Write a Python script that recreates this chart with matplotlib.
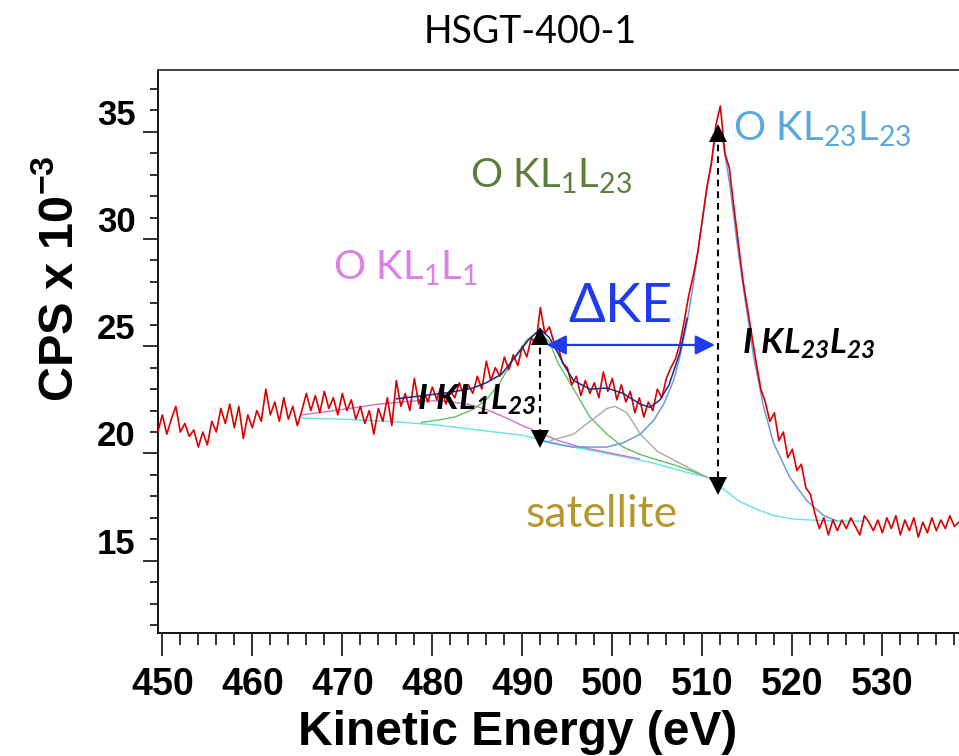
import numpy as np
import matplotlib
matplotlib.use('Agg')
import matplotlib.pyplot as plt
from matplotlib.ticker import MultipleLocator

plt.rcParams['font.family'] = ['Liberation Sans', 'DejaVu Sans']
plt.rcParams['mathtext.fontset'] = 'custom'
plt.rcParams['mathtext.rm'] = 'Lato'
plt.rcParams['mathtext.it'] = 'Lato:italic'
plt.rcParams['mathtext.bf'] = 'Liberation Sans:bold'
HAS_BFIT = 'mathtext.bfit' in plt.rcParams
if HAS_BFIT:
    plt.rcParams['mathtext.bfit'] = 'Lato:italic:bold'

# ---------------- data ----------------
start_energy = 449.5
energy_step = 0.5
cps = [21.0, 21.8, 20.9, 21.6, 22.2, 21.0, 21.4, 20.8, 21.1, 20.3, 21.0,
       20.4, 21.5, 21.0, 22.1, 21.4, 22.3, 21.2, 22.2, 20.7, 21.8,
       21.2, 22.0, 21.5, 23.0, 21.8, 22.4, 21.5, 22.6, 21.6, 22.2,
       21.3, 22.0, 22.8, 22.0, 22.7, 21.9, 22.9, 22.1, 22.6, 21.8,
       22.8, 22.0, 22.5, 21.6, 22.2, 21.4, 22.0, 20.9, 22.1, 21.5,
       22.6, 21.3, 23.4, 22.2, 22.8, 22.0, 23.5, 22.3, 23.0, 22.4,
       23.1, 22.5, 23.2, 22.3, 22.9, 22.6, 23.3, 22.7, 23.2, 22.8,
       23.6, 23.0, 24.3, 23.4, 24.0, 23.6, 24.5, 23.9, 24.6, 24.1,
       25.0, 24.5, 25.4, 25.1, 26.8, 25.6, 25.9, 25.2, 24.9, 24.2,
       24.0, 23.2, 23.6, 22.7, 23.4, 22.8, 23.3, 22.6, 23.8, 22.9,
       23.5, 22.5, 23.2, 22.4, 22.9, 21.9, 22.6, 21.7, 22.4, 22.0,
       23.0, 22.6, 23.5, 24.0, 24.4, 25.1, 26.2, 27.4, 28.3, 29.4,
       30.9, 32.4, 33.5, 35.3, 36.2, 34.0, 33.3, 31.5, 29.8, 28.1,
       26.8, 25.5, 24.2, 23.0, 22.4, 21.5, 21.9, 20.6, 21.0, 19.8,
       20.2, 19.2, 19.5, 18.4, 18.1, 17.2, 16.5, 17.0, 16.2, 16.9,
       16.4, 16.9, 16.5, 17.0, 16.6, 16.2, 17.1, 16.8, 16.4, 16.9,
       16.3, 17.0, 16.5, 17.1, 16.2, 16.9, 16.4, 17.0, 16.1, 16.8,
       16.3, 17.0, 16.4, 16.9, 16.5, 17.1, 16.6, 16.8]

bg_E = [465.5, 470, 475, 480, 485, 490, 492, 495, 500, 503, 505, 508,
        510.5, 512, 514, 516, 518, 520, 522, 525, 528]
bg_v = [21.65, 21.6, 21.5, 21.35, 21.1, 20.85, 20.65, 20.35, 19.95, 19.7,
        19.5, 19.15, 18.9, 18.45, 17.8, 17.4, 17.1, 16.95, 16.9, 16.85, 16.85]

kl1l1_E = [465.5, 470, 474, 478, 481, 484, 486, 488, 490, 492, 494, 496, 500, 503]
kl1l1_v = [21.8, 22.05, 22.3, 22.45, 22.45, 22.3, 22.05, 21.7, 21.3, 20.95,
           20.6, 20.35, 20.0, 19.75]

kl1l23_E = [478.8, 480.5, 482.5, 484.5, 486, 487.5, 489, 490.5, 491.8, 493,
            494, 495.7, 497.5, 499.4, 501.2, 503.1, 505, 507, 509, 510.5]
kl1l23_v = [21.45, 21.55, 21.7, 22.05, 22.5, 23.3, 24.4, 25.3, 25.7, 25.2,
            24.2, 23.0, 21.7, 20.9, 20.3, 19.95, 19.7, 19.45, 19.15, 18.9]

sat_E = [493.1, 495.7, 497.5, 498.5, 499.4, 500.3, 501.6, 502.3, 503.1, 505,
         506.8, 508.6, 510.5]
sat_v = [20.6, 20.9, 21.5, 21.8, 22.1, 22.2, 21.9, 21.45, 20.9, 20.1,
         19.7, 19.3, 18.9]

kl23_E = [492, 494.2, 495.7, 499.4, 501.2, 503.1, 504.6, 505.7, 506.8, 507.5,
          508.3, 509.0, 509.8, 510.5, 511.2, 511.8, 512.3, 513.1, 513.8, 514.6,
          515.7, 516.8, 517.9, 519.7, 521.6, 523.5, 525]
kl23_v = [20.6, 20.4, 20.3, 20.3, 20.5, 20.9, 21.55, 22.3, 23.4, 24.5,
          26.1, 27.9, 30.3, 32.3, 34.1, 35.2, 34.5, 32.4, 30.0, 27.6,
          24.5, 22.2, 20.5, 18.9, 17.8, 17.1, 16.85]

env_E = [476, 479, 482, 484.5, 486, 487.7, 489.2, 490.7, 492, 493, 493.8,
         494.8, 495.7, 497.5, 499.4, 501.2, 503.1, 504.2, 505.3, 506.3, 507.5, 508.3]
env_v = [22.55, 22.7, 22.85, 23.05, 23.3, 23.7, 24.5, 25.3, 25.8, 25.4, 24.8,
         24.0, 23.4, 23.0, 23.05, 22.8, 22.3, 22.15, 22.5, 23.2, 24.7, 26.3]

peak_kl1l23_E = 491.97
peak_kl1l23_top, peak_kl1l23_base = 25.46, 20.67
peak_kl23_E = 511.78
peak_kl23_top, peak_kl23_base = 34.92, 18.48
dke_y = 25.06
dke_left, dke_right = 492.7, 511.4

xticks = [450, 460, 470, 480, 490, 500, 510, 520, 530]
xtick_labels = ['450', '460', '470', '480', '490', '500', '510', '520', '530']
yticks = [15, 20, 25, 30, 35]
ytick_labels = ['15', '20', '25', '30', '35']

energy = start_energy + energy_step * np.arange(len(cps))

# ---------------- figure ----------------
W, H = 959, 756
fig = plt.figure(figsize=(W / 100, H / 100), dpi=100)
ax = fig.add_axes([158 / W, 1 - 633 / H, (962 - 158) / W, (633 - 70) / H])
ax.set_xlim(449.52, 538.85)
ax.set_ylim(11.63, 37.88)

ax.plot(bg_E, bg_v, color='#5fe3ea', lw=1.0, zorder=2)
ax.plot(kl1l1_E, kl1l1_v, color='#d070d0', lw=1.0, zorder=2)
ax.plot(kl1l23_E, kl1l23_v, color='#60c060', lw=1.0, zorder=2)
ax.plot(sat_E, sat_v, color='#a8a8a8', lw=1.0, zorder=2)
ax.plot(kl23_E, kl23_v, color='#6a9be0', lw=1.1, zorder=2)
ax.plot(energy, cps, color='#dc0000', lw=1.2, zorder=3)
ax.plot(env_E, env_v, color='#1c2a8c', lw=1.1, zorder=4)

# dashed intensity markers
for xE, top, base in [(peak_kl1l23_E, peak_kl1l23_top, peak_kl1l23_base),
                      (peak_kl23_E, peak_kl23_top, peak_kl23_base)]:
    ax.plot([xE, xE], [top, base], color='black', lw=1.5,
            ls=(0, (3.2, 2.4)), zorder=5)
    ax.plot([xE], [top], marker='^', ms=12.5, color='black', mew=0, zorder=6)
    ax.plot([xE], [base], marker='v', ms=12.5, color='black', mew=0, zorder=6)

ax.annotate('', xy=(dke_right, dke_y), xytext=(dke_left, dke_y),
            arrowprops=dict(arrowstyle='<|-|>', color='#1f3bf0', lw=1.6,
                            mutation_scale=30, shrinkA=0, shrinkB=0), zorder=6)

# labels
ax.text(513.4, 34.6, r'$\mathrm{O\ KL_{23}L_{23}}$', color='#5ba8e0',
        fontsize=29, ha='left', va='baseline', zorder=7)
ax.text(484.2, 32.4, r'$\mathrm{O\ KL_{1}L_{23}}$', color='#5a7f3a',
        fontsize=29, ha='left', va='baseline', zorder=7)
ax.text(469.0, 28.1, r'$\mathrm{O\ KL_{1}L_{1}}$', color='#dc80e8',
        fontsize=29, ha='left', va='baseline', zorder=7)
ax.text(495.1, 26.13, r'$\mathrm{\Delta KE}$', color='#1f3bf0',
        fontsize=39, ha='left', va='baseline', zorder=7)
if HAS_BFIT:
    t1 = r'$\mathbfit{I\ KL_{23}L_{23}}$'
    t2 = r'$\mathbfit{I\ KL_{1}L_{23}}$'
else:
    t1 = r'$\mathit{I\ KL_{23}L_{23}}$'
    t2 = r'$\mathit{I\ KL_{1}L_{23}}$'
ax.text(514.4, 24.68, t1, color='black', fontsize=25,
        ha='left', va='baseline', zorder=7)
ax.text(478.3, 22.03, t2, color='black', fontsize=25,
        ha='left', va='baseline', zorder=7)
ax.text(490.3, 16.55, 'satellite', color='#b8962e', fontsize=32,
        family='Lato', ha='left', va='baseline', zorder=7)

fig.text(530 / W, 1 - 32 / H, 'HSGT-400-1', ha='center', va='center',
         fontsize=27, family='Lato')

# axes styling
for s in ['left', 'bottom']:
    ax.spines[s].set_linewidth(1.4)
    ax.spines[s].set_color('#111111')
ax.spines['top'].set_linewidth(1.4)
ax.spines['top'].set_color('#444444')
ax.spines['right'].set_visible(False)

ax.set_xticks(xticks)
ax.set_xticklabels(xtick_labels, fontweight='bold', fontsize=27)
ax.xaxis.set_minor_locator(MultipleLocator(2))
ax.set_yticks(yticks)
ax.set_yticklabels(ytick_labels, fontweight='bold', fontsize=25)
ax.yaxis.set_minor_locator(MultipleLocator(1))
ax.tick_params(axis='x', which='major', direction='out', length=16.5,
               width=1.3, pad=8, color='#222222')
ax.tick_params(axis='x', which='minor', direction='out', length=8.5,
               width=1.3, color='#222222')
ax.tick_params(axis='y', which='major', direction='out', length=11,
               width=1.3, pad=5, color='#222222')
ax.tick_params(axis='y', which='minor', direction='out', length=5.5,
               width=1.3, color='#222222')
for lab in ax.get_yticklabels():
    lab.set_verticalalignment('bottom')

ax.set_xlabel('Kinetic Energy (eV)', fontsize=34.5, fontweight='bold')
ax.xaxis.set_label_coords(0.447, -0.137)
ax.set_ylabel(r'$\mathbf{CPS\ x\ 10^{-3}}$', fontsize=35)
ax.yaxis.set_label_coords(-0.093, 0.63)

fig.savefig('out.png', dpi=100)
